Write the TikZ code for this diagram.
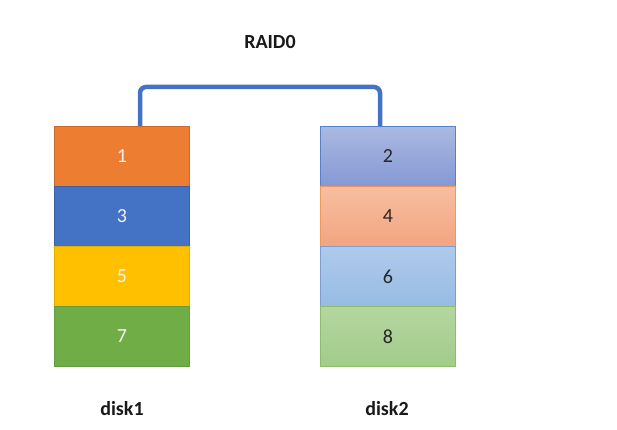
\documentclass[tikz,border=0pt]{standalone}
\usepackage{fontspec}
\setmainfont{Carlito}
\begin{document}
\begin{tikzpicture}[x=1pt,y=-1pt,
  cell/.style={draw, line width=0.8pt, minimum width=135pt, minimum height=60pt, anchor=north west, inner sep=0pt, font=\fontsize{20}{20}\selectfont},
  lcell/.style={cell, text=white!95!black},
  rcell/.style={cell, text=black!85},
  lbl/.style={font=\bfseries\fontsize{20}{20}\selectfont, text=black!90}]
\definecolor{c1}{HTML}{ED7D31}
\definecolor{c3}{HTML}{4472C4}
\definecolor{c5}{HTML}{FFC000}
\definecolor{c7}{HTML}{70AD47}
\useasboundingbox (0,0) rectangle (617,430);
\node[lcell, fill=c1, draw=c1!85!black] (n1) at (54,126) {1};
\node[lcell, fill=c3, draw=c3!85!black] (n3) at (54,186) {3};
\node[lcell, fill=c5, draw=c5!90!black] (n5) at (54,246) {5};
\node[lcell, fill=c7, draw=c7!90!black] (n7) at (54,306) {7};
\node[rcell, top color={rgb,255:red,170;green,185;blue,225}, bottom color={rgb,255:red,132;green,152;blue,212}, draw=c3!90] (n2) at (320,126) {2};
\node[rcell, top color={rgb,255:red,247;green,190;blue,160}, bottom color={rgb,255:red,242;green,165;blue,128}, draw=c1!80] (n4) at (320,186) {4};
\node[rcell, top color={rgb,255:red,175;green,202;blue,235}, bottom color={rgb,255:red,150;green,188;blue,228}, draw=c3!70] (n6) at (320,246) {6};
\node[rcell, top color={rgb,255:red,180;green,214;blue,160}, bottom color={rgb,255:red,162;green,204;blue,138}, draw=c7!80] (n8) at (320,306) {8};
\coordinate (a) at (140,126);
\coordinate (b) at (380,126);
\draw[c3, line width=4.5pt, rounded corners=6pt] (a) -- (140,87) -- (380,87) -- (b);
\node[lbl] (raid) at (270,42) {RAID0};
\node[lbl] (d1) at (122,409) {disk1};
\node[lbl] (d2) at (387,409) {disk2};
\end{tikzpicture}
\end{document}
